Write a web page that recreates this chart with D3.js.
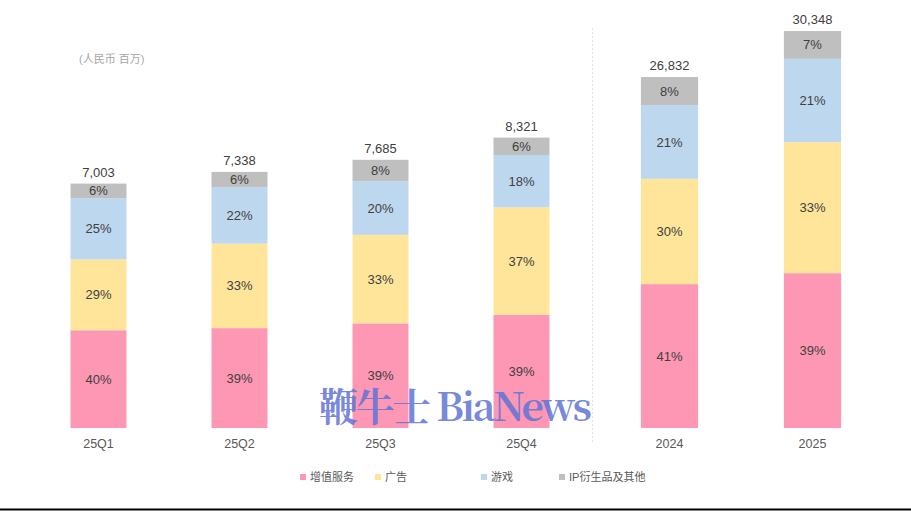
<!DOCTYPE html>
<html><head><meta charset="utf-8">
<script src="https://cdn.jsdelivr.net/npm/d3@7/dist/d3.min.js"></script>
<style>
html,body{margin:0;padding:0;background:#fff;}
svg{display:block;font-family:"Liberation Sans","Noto Sans CJK SC",Arial,sans-serif;}
</style></head>
<body><svg id="c" width="911" height="511"></svg>
<script>
const quarters = ["25Q1","25Q2","25Q3","25Q4"];
const years = ["2024","2025"];
const qTotals = [7003, 7338, 7685, 8321];
const yTotals = [26832, 30348];
const series = ["增值服务","广告","游戏","IP衍生品及其他"];
// percentage shares per category (bottom to top)
const pctVAS   = [40, 39, 39, 39, 41, 39];
const pctAds   = [29, 33, 33, 37, 30, 33];
const pctGames = [25, 22, 20, 18, 21, 21];
const pctIP    = [6, 6, 8, 6, 8, 7];
const colors = ["#FE97B4","#FFE59A","#BDD7EE","#BFBFBF"];

const svg = d3.select("#c");
const base = 428;
const categories = quarters.concat(years);
const totals = qTotals.concat(yTotals);
const pcts = [pctVAS, pctAds, pctGames, pctIP];

const xQ = d3.scaleBand().domain(quarters).range([28, 592]).paddingInner(0.603).paddingOuter(0.3015);
const xY = d3.scaleBand().domain(years).range([598, 884]).paddingInner(0.6).paddingOuter(0.3);
const yQ = d3.scaleLinear().domain([0, 10000]).range([base, base - 349]);
const yY = d3.scaleLinear().domain([0, 30000]).range([base, base - 392.4]);

const rows = categories.map((c, i) => {
  const isQ = i < 4;
  const x = isQ ? xQ : xY, y = isQ ? yQ : yY;
  let cum = 0;
  const segs = pcts.map((p, k) => {
    const v = totals[i] * p[i] / 100;
    const s = {k, p: p[i], y0: cum, y1: cum + v};
    cum += v;
    return s;
  });
  return {c, i, x, y, segs, total: totals[i]};
});

// separator
svg.append("line").attr("x1", 592.5).attr("x2", 592.5).attr("y1", 28).attr("y2", 442)
  .attr("stroke", "#e4e4e4").attr("stroke-width", 1).attr("stroke-dasharray", "2,2");

const g = svg.append("g");
rows.forEach(r => {
  const bx = r.x(r.c), bw = r.x.bandwidth();
  r.segs.forEach(s => {
    g.append("rect").attr("x", bx).attr("width", bw)
      .attr("y", r.y(s.y1)).attr("height", r.y(s.y0) - r.y(s.y1))
      .attr("fill", colors[s.k]);
    g.append("text").attr("x", bx + bw / 2).attr("y", (r.y(s.y0) + r.y(s.y1)) / 2)
      .attr("dy", "0.35em").attr("text-anchor", "middle")
      .attr("font-size", 13).attr("fill", "#404040").text(s.p + "%");
  });
  g.append("text").attr("x", bx + bw / 2).attr("y", r.y(r.total) - 7)
    .attr("text-anchor", "middle").attr("font-size", 13).attr("fill", "#404040")
    .text(d3.format(",")(r.total));
  g.append("text").attr("x", bx + bw / 2).attr("y", 448)
    .attr("text-anchor", "middle").attr("font-size", 12.5).attr("fill", "#595959")
    .text(r.c);
});

// unit label
svg.append("text").attr("x", 79).attr("y", 63).attr("font-size", 11).attr("fill", "#a6a6a6")
  .text("(人民币 百万)");

// legend
const legX = [300, 375, 481, 559];
series.forEach((s, k) => {
  svg.append("rect").attr("x", legX[k]).attr("y", 474).attr("width", 6).attr("height", 6).attr("fill", colors[k]);
  svg.append("text").attr("x", legX[k] + 10).attr("y", 481).attr("font-size", 11).attr("fill", "#595959").text(s);
});

// watermark
svg.append("text").attr("x", 319).attr("y", 421).attr("font-size", 39).attr("font-weight", "bold")
  .attr("font-family", "'Noto Serif CJK SC','Liberation Serif','DejaVu Serif',serif")
  .attr("fill", "#5f74d6").attr("fill-opacity", 0.85).attr("textLength", 273)
  .text("鞭牛士 BiaNews");

// bottom rule
svg.append("line").attr("x1", 0).attr("x2", 911).attr("y1", 509.5).attr("y2", 509.5)
  .attr("stroke", "#000").attr("stroke-width", 2);
</script></body></html>
